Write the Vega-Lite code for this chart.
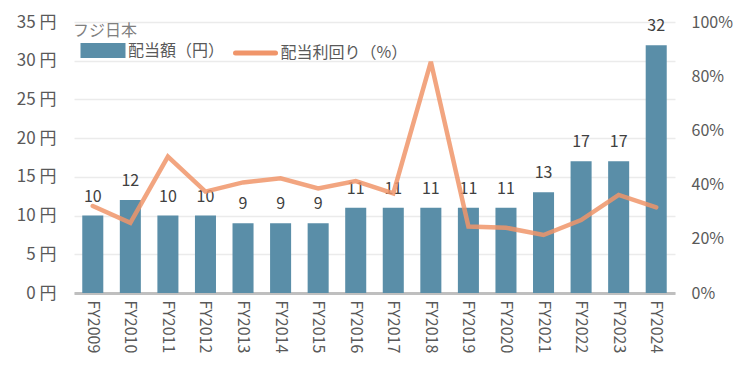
{
  "$schema": "https://vega.github.io/schema/vega-lite/v6.json",
  "width": 601,
  "height": 271,
  "autosize": {"type": "none"},
  "padding": {"left": 74, "top": 22, "right": 72, "bottom": 84},
  "background": "white",
  "config": {
    "font": "Noto Sans CJK JP",
    "view": {"stroke": null},
    "axis": {"labelFont": "Noto Sans CJK JP", "labelColor": "#595959", "labelFontSize": 16, "titleColor": "#595959"},
    "legend": {"labelFont": "Noto Sans CJK JP", "titleFont": "Noto Sans CJK JP"}
  },
  "data": {
    "values": [
      {"fy": "FY2009", "div": 10, "yield": 0.321},
      {"fy": "FY2010", "div": 12, "yield": 0.259},
      {"fy": "FY2011", "div": 10, "yield": 0.503},
      {"fy": "FY2012", "div": 10, "yield": 0.374},
      {"fy": "FY2013", "div": 9, "yield": 0.408},
      {"fy": "FY2014", "div": 9, "yield": 0.423},
      {"fy": "FY2015", "div": 9, "yield": 0.386},
      {"fy": "FY2016", "div": 11, "yield": 0.413},
      {"fy": "FY2017", "div": 11, "yield": 0.368},
      {"fy": "FY2018", "div": 11, "yield": 0.853},
      {"fy": "FY2019", "div": 11, "yield": 0.245},
      {"fy": "FY2020", "div": 11, "yield": 0.241},
      {"fy": "FY2021", "div": 13, "yield": 0.214},
      {"fy": "FY2022", "div": 17, "yield": 0.269},
      {"fy": "FY2023", "div": 17, "yield": 0.362},
      {"fy": "FY2024", "div": 32, "yield": 0.316}
    ]
  },
  "encoding": {
    "x": {
      "field": "fy",
      "type": "ordinal",
      "sort": null,
      "scale": {"paddingInner": 0.44, "paddingOuter": 0.22},
      "axis": {
        "title": null,
        "labelAngle": 90,
        "labelAlign": "left",
        "labelBaseline": "middle",
        "labelPadding": 7,
        "labelFontSize": 16,
        "ticks": false,
        "domain": true,
        "domainColor": "#bfbfbf",
        "domainWidth": 3,
        "grid": false
      }
    }
  },
  "layer": [
    {
      "encoding": {
        "y": {
          "field": "div",
          "type": "quantitative",
          "scale": {"domain": [0, 35], "nice": false},
          "axis": {
            "title": null,
            "values": [0, 5, 10, 15, 20, 25, 30, 35],
            "labelExpr": "datum.value + ' 円'",
            "labelOverlap": false,
            "labelFontSize": 17,
            "labelPadding": 18,
            "ticks": false,
            "domain": false,
            "grid": true,
            "gridColor": "#ebebeb",
            "gridWidth": 1.5
          }
        }
      },
      "layer": [
        {
          "mark": {"type": "bar", "color": "#5a8ea8"},
          "encoding": {
            "color": {
              "datum": "配当額（円）",
              "scale": {"domain": ["配当額（円）", "配当利回り（%）"], "range": ["#5a8ea8", "#f0956a"]},
              "legend": {
                "orient": "none",
                "legendX": -1,
                "legendY": 0.5,
                "direction": "horizontal",
                "title": "フジ日本",
                "titleFontSize": 16,
                "titleFontWeight": "normal",
                "titleColor": "#7f7f7f",
                "titlePadding": 4,
                "titleAnchor": "start",
                "padding": 0,
                "symbolSize": 100,
                "symbolStrokeWidth": 5,
                "symbolOffset": 22,
                "labelFontSize": 16,
                "labelColor": "#595959",
                "labelOffset": 17,
                "columnPadding": 0.5,
                "encode": {
                  "symbols": {
                    "update": {
                      "size": {"value": 100},
                      "shape": {"signal": "datum.value === '配当額（円）' ? 'M-4,-1H4V1H-4Z' : 'M-4,0H4'"},
                      "fill": {"signal": "datum.value === '配当額（円）' ? '#5a8ea8' : 'transparent'"},
                      "stroke": {"signal": "datum.value === '配当額（円）' ? 'transparent' : '#f0956a'"},
                      "strokeWidth": {"value": 5},
                      "strokeCap": {"value": "round"},
                      "opacity": {"value": 1}
                    }
                  }
                }
              }
            }
          }
        },
        {
          "mark": {"type": "text", "baseline": "bottom", "dy": -11, "fontSize": 16, "color": "#404040", "font": "Noto Sans CJK JP"},
          "encoding": {
            "text": {"field": "div", "type": "quantitative"}
          }
        }
      ]
    },
    {
      "mark": {"type": "line", "strokeWidth": 4.5, "opacity": 0.85, "strokeCap": "round", "strokeJoin": "miter"},
      "encoding": {
        "y": {
          "field": "yield",
          "type": "quantitative",
          "scale": {"domain": [0, 1], "nice": false},
          "axis": {
            "orient": "right",
            "title": null,
            "values": [0, 0.2, 0.4, 0.6, 0.8, 1],
            "format": ".0%",
            "labelPadding": 16,
            "labelAlign": "left",
            "ticks": false,
            "domain": false,
            "grid": false
          }
        },
        "color": {"datum": "配当利回り（%）"}
      }
    }
  ],
  "resolve": {"scale": {"y": "independent"}}
}
